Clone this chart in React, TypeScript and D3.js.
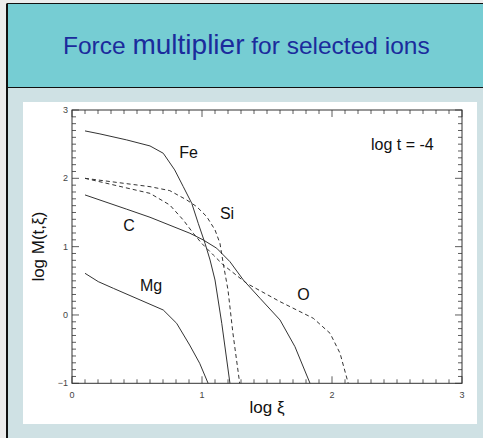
import React from "react";
import * as d3 from "d3";

// Force multiplier curves: [log xi, log M(t, xi)] at log t = -4
const feCurve: [number, number][] = [
  [0.1, 2.694], [0.215, 2.65], [0.421, 2.562], [0.6, 2.474], [0.702, 2.367],
  [0.79, 2.123], [0.856, 1.878], [0.921, 1.635], [0.971, 1.342], [1.023, 1.05],
  [1.062, 0.805], [1.1, 0.512], [1.152, -0.122], [1.215, -1.0],
];
const siCurve: [number, number][] = [
  [0.1, 2.0], [0.6, 1.878], [0.752, 1.82], [0.882, 1.684], [0.959, 1.586],
  [1.036, 1.44], [1.1, 1.245], [1.138, 1.05], [1.163, 0.757], [1.2, 0.366],
  [1.238, -0.268], [1.29, -1.0],
];
const oCurve: [number, number][] = [
  [0.1, 2.0], [0.6, 1.78], [0.752, 1.61], [0.856, 1.39], [0.933, 1.196],
  [0.997, 1.05], [1.087, 0.878], [1.164, 0.732], [1.343, 0.464], [1.6, 0.195],
  [1.856, -0.048], [1.985, -0.268], [2.062, -0.561], [2.125, -1.0],
];
const cCurve: [number, number][] = [
  [0.1, 1.757], [0.421, 1.548], [0.6, 1.43], [0.907, 1.196], [1.01, 1.098],
  [1.113, 0.977], [1.215, 0.78], [1.318, 0.512], [1.446, 0.245], [1.6, -0.073],
  [1.715, -0.464], [1.831, -1.0],
];
const mgCurve: [number, number][] = [
  [0.1, 0.61], [0.202, 0.488], [0.318, 0.39], [0.702, 0.073], [0.805, -0.122],
  [0.905, -0.44], [0.982, -0.707], [1.047, -1.0],
];

const series = [
  { name: "Fe", points: feCurve, dashed: false, label: [0.825, 2.293] },
  { name: "Si", points: siCurve, dashed: true, label: [1.138, 1.4] },
  { name: "O", points: oCurve, dashed: true, label: [1.733, 0.22] },
  { name: "C", points: cCurve, dashed: false, label: [0.395, 1.234] },
  { name: "Mg", points: mgCurve, dashed: false, label: [0.523, 0.356] },
];

const xTicks = [0, 1, 2, 3];
const yTicks = [-1, 0, 1, 2, 3];
const xDomain: [number, number] = [0, 3];
const yDomain: [number, number] = [-1, 3];
const annotation = { text: "log t = -4", at: [2.3, 2.415] };

const W = 483;
const H = 438;
const FONT = "'Liberation Sans', Arial, Helvetica, sans-serif";
const INK = "#333";

export default function App() {
  const x = d3.scaleLinear().domain(xDomain).range([72, 462]);
  const y = d3.scaleLinear().domain(yDomain).range([383.3, 110]);
  const line = d3
    .line<[number, number]>()
    .x((d) => x(d[0]))
    .y((d) => y(d[1]));

  const [x0, x1] = x.range();
  const [yb, yt] = y.range();

  // minor ticks every 0.1 on both axes
  const xMinor = d3.range(0, 30.5, 1).map((i) => i / 10);
  const yMinor = d3.range(-10, 30.5, 1).map((i) => i / 10);
  const isMajor = (v: number) => Math.abs(v - Math.round(v)) < 1e-6;

  return (
    <svg
      width={W}
      height={H}
      style={{ position: "absolute", left: 0, top: 0, display: "block" }}
      fontFamily={FONT}
    >
      <rect x={0} y={0} width={W} height={H} fill="#ececec" />
      {/* header band */}
      <rect x={7} y={3.5} width={W - 7} height={84} fill="#76cdd3" />
      {/* lower panel */}
      <rect x={7} y={88} width={W - 7} height={H - 88} fill="#cfe1e4" />
      <line x1={7} y1={3.5} x2={W} y2={3.5} stroke="#111" strokeWidth={1.2} />
      <line x1={7} y1={87.5} x2={W} y2={87.5} stroke="#111" strokeWidth={1.2} />
      <line x1={7} y1={3.5} x2={7} y2={H} stroke="#111" strokeWidth={2} />

      <text x={63} y={54} fill="#1b2b9c">
        <tspan fontSize={24.5}>Force </tspan>
        <tspan fontSize={28}>multiplier</tspan>
        <tspan fontSize={24.5}> for selected ions</tspan>
      </text>

      {/* plot area */}
      <rect x={23} y={102} width={454} height={322} fill="#ffffff" />

      {/* axis frame */}
      <rect
        x={x0}
        y={yt}
        width={x1 - x0}
        height={yb - yt}
        fill="none"
        stroke={INK}
        strokeWidth={1}
      />

      {xMinor.map((v) => {
        const len = isMajor(v) ? 7 : 4;
        const px = x(v);
        return (
          <g key={"xt" + v}>
            <line x1={px} x2={px} y1={yb} y2={yb - len} stroke={INK} strokeWidth={0.8} />
            <line x1={px} x2={px} y1={yt} y2={yt + len} stroke={INK} strokeWidth={0.8} />
          </g>
        );
      })}
      {yMinor.map((v) => {
        const len = isMajor(v) ? 7 : 4;
        const py = y(v);
        return (
          <g key={"yt" + v}>
            <line x1={x0} x2={x0 + len} y1={py} y2={py} stroke={INK} strokeWidth={0.8} />
            <line x1={x1} x2={x1 - len} y1={py} y2={py} stroke={INK} strokeWidth={0.8} />
          </g>
        );
      })}

      {xTicks.map((v) => (
        <text key={"xl" + v} x={x(v)} y={yb + 15} fontSize={9} fill="#444" textAnchor="middle">
          {v}
        </text>
      ))}
      {yTicks.map((v) => (
        <text key={"yl" + v} x={x0 - 4} y={y(v) + 3} fontSize={9} fill="#444" textAnchor="end">
          {v < 0 ? "\u2212" + Math.abs(v) : v}
        </text>
      ))}

      <text x={(x0 + x1) / 2} y={413} fontSize={17} fill="#111" textAnchor="middle">
        log ξ
      </text>
      <text
        transform={`translate(44, ${(yb + yt) / 2}) rotate(-90)`}
        fontSize={17}
        fill="#111"
        textAnchor="middle"
      >
        log M(t,ξ)
      </text>

      {series.map((s) => (
        <path
          key={s.name}
          d={line(s.points) || ""}
          fill="none"
          stroke={INK}
          strokeWidth={1}
          strokeDasharray={s.dashed ? "4,3" : undefined}
        />
      ))}
      {series.map((s) => (
        <text key={"lab" + s.name} x={x(s.label[0])} y={y(s.label[1])} fontSize={16} fill="#111">
          {s.name}
        </text>
      ))}

      <text x={x(annotation.at[0])} y={y(annotation.at[1])} fontSize={16} fill="#111">
        {annotation.text}
      </text>
    </svg>
  );
}
